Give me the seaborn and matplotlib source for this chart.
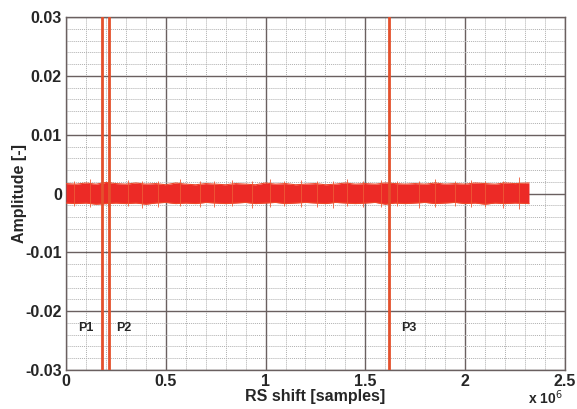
import matplotlib
matplotlib.use("Agg")
import matplotlib.pyplot as plt
import seaborn as sns
import numpy as np
import pandas as pd
from matplotlib.ticker import MultipleLocator

# ---- data ----
shift_e6 = [0.00, 0.05, 0.10, 0.15, 0.20, 0.25, 0.30, 0.35, 0.40, 0.45, 0.50,
            0.55, 0.60, 0.65, 0.70, 0.75, 0.80, 0.85, 0.90, 0.95, 1.00, 1.05,
            1.10, 1.15, 1.20, 1.25, 1.30, 1.35, 1.40, 1.45, 1.50, 1.55, 1.60,
            1.65, 1.70, 1.75, 1.80, 1.85, 1.90, 1.95, 2.00, 2.05, 2.10, 2.15,
            2.20, 2.25, 2.32]
upper_env = [0.0017, 0.0016, 0.0018, 0.0016, 0.0019, 0.0017, 0.0016, 0.0018,
             0.0016, 0.0017, 0.0015, 0.0018, 0.0016, 0.0015, 0.0017, 0.0016,
             0.0015, 0.0017, 0.0016, 0.0015, 0.0018, 0.0016, 0.0017, 0.0015,
             0.0016, 0.0017, 0.0015, 0.0016, 0.0018, 0.0016, 0.0017, 0.0016,
             0.0018, 0.0017, 0.0016, 0.0017, 0.0016, 0.0018, 0.0016, 0.0017,
             0.0016, 0.0018, 0.0017, 0.0016, 0.0018, 0.0017, 0.0018]
lower_env = [-0.0016, -0.0017, -0.0016, -0.0018, -0.0017, -0.0016, -0.0017,
             -0.0016, -0.0018, -0.0016, -0.0015, -0.0017, -0.0016, -0.0017,
             -0.0015, -0.0016, -0.0017, -0.0016, -0.0015, -0.0017, -0.0016,
             -0.0015, -0.0017, -0.0016, -0.0015, -0.0016, -0.0017, -0.0015,
             -0.0016, -0.0017, -0.0016, -0.0015, -0.0018, -0.0016, -0.0017,
             -0.0016, -0.0015, -0.0017, -0.0016, -0.0015, -0.0017, -0.0016,
             -0.0018, -0.0016, -0.0017, -0.0016, -0.0017]
spike_x_e6 = [0.04, 0.12, 0.21, 0.31, 0.38, 0.46, 0.57, 0.67, 0.74, 0.83,
              0.93, 1.02, 1.09, 1.18, 1.26, 1.34, 1.41, 1.49, 1.58, 1.66,
              1.77, 1.85, 1.95, 2.03, 2.10, 2.19, 2.27]
spike_hi = [0.0022, 0.0024, 0.0021, 0.0023, 0.0022, 0.0021, 0.0024, 0.0022,
            0.0021, 0.0023, 0.0022, 0.0025, 0.0021, 0.0023, 0.0022, 0.0021,
            0.0024, 0.0022, 0.0023, 0.0021, 0.0022, 0.0024, 0.0021, 0.0023,
            0.0022, 0.0021, 0.0028]
spike_lo = [-0.0021, -0.0023, -0.0022, -0.0021, -0.0024, -0.0022, -0.0021,
            -0.0023, -0.0022, -0.0021, -0.0024, -0.0022, -0.0021, -0.0023,
            -0.0022, -0.0024, -0.0021, -0.0022, -0.0023, -0.0021, -0.0025,
            -0.0022, -0.0021, -0.0023, -0.0022, -0.0024, -0.0026]
peak_x_e6 = [0.18, 0.215, 1.62]
peak_labels = ["P1", "P2", "P3"]
label_x_e6 = [0.10, 0.29, 1.72]
label_y = -0.0228

x_ticks = [0, 0.5, 1, 1.5, 2, 2.5]
x_tick_labels = ["0", "0.5", "1", "1.5", "2", "2.5"]
y_ticks = [-0.03, -0.02, -0.01, 0, 0.01, 0.02, 0.03]
y_tick_labels = ["-0.03", "-0.02", "-0.01", "0", "0.01", "0.02", "0.03"]

sns.set_style("white")
plt.rcParams['font.family'] = ['Liberation Sans', 'DejaVu Sans']

fig = plt.figure(figsize=(5.77, 4.09), dpi=100)
ax = fig.add_axes([0.1144, 0.0954, 0.8646, 0.8626])

noise_red = "#ec2a26"
line_red = "#e4502c"

env = pd.DataFrame({"x": np.array(shift_e6) * 1e6,
                    "up": upper_env, "lo": lower_env})
ax.fill_between(env["x"], env["lo"], env["up"], color=noise_red, lw=0, zorder=3)
sns.lineplot(data=env, x="x", y="up", ax=ax, color="#ee4a2c", lw=0.8, zorder=3)
sns.lineplot(data=env, x="x", y="lo", ax=ax, color="#ee4a2c", lw=0.8, zorder=3)
ax.vlines(np.array(spike_x_e6) * 1e6, spike_lo, spike_hi, color="#ef5a36",
          lw=0.6, zorder=3)

for px in peak_x_e6:
    ax.axvline(px * 1e6, color=line_red, lw=2.0, zorder=4)
for lx, lab in zip(label_x_e6, peak_labels):
    ax.text(lx * 1e6, label_y, lab, fontsize=9, fontweight="bold",
            ha="center", va="center", zorder=5)

ax.set_xlim(0, 2.5e6)
ax.set_ylim(-0.03, 0.03)
ax.set_xticks(np.array(x_ticks) * 1e6)
ax.set_xticklabels(x_tick_labels)
ax.set_yticks(y_ticks)
ax.set_yticklabels(y_tick_labels)
ax.xaxis.set_minor_locator(MultipleLocator(0.1e6))
ax.yaxis.set_minor_locator(MultipleLocator(0.002))
ax.grid(which="major", color="#6a6060", lw=1.0, zorder=1)
ax.grid(which="minor", color="#b0b0b0", lw=0.7, ls=(0, (1, 1)), zorder=1)
ax.set_axisbelow(True)
ax.tick_params(which="both", length=0, labelsize=11.5, pad=3)
for t in ax.get_xticklabels() + ax.get_yticklabels():
    t.set_fontweight("bold")
for s in ax.spines.values():
    s.set_color("#6a6060")
    s.set_linewidth(1.0)

ax.set_xlabel("RS shift [samples]", fontsize=11.5, fontweight="bold", labelpad=0)
ax.set_ylabel("Amplitude [-]", fontsize=11.5, fontweight="bold", labelpad=-1)
fig.text(0.945, 0.004, r"x 10$^{6}$", fontsize=10, fontweight="bold",
         ha="center", va="bottom")

fig.savefig("out.png", dpi=100)
